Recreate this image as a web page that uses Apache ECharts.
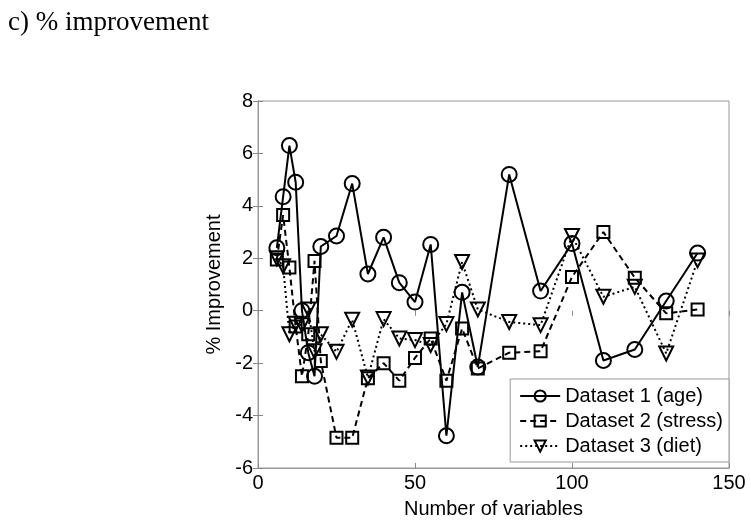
<!DOCTYPE html>
<html>
<head>
<meta charset="utf-8">
<script src="https://cdn.jsdelivr.net/npm/echarts@6/dist/echarts.min.js"></script>
<style>
  html, body { margin: 0; padding: 0; background: #fff; }
  #chart { width: 751px; height: 526px; }
</style>
</head>
<body>
<div id="chart"></div>
<script>
// number of variables (x) for every dataset
const numVars = [6, 8, 10, 12, 14, 16, 18, 20, 25, 30, 35, 40, 45, 50, 55, 60, 65, 70, 80, 90, 100, 110, 120, 130, 140]

const ageImprovement = [2.4, 4.35, 6.3, 4.9, 0, -1.6, -2.5, 2.45, 2.85, 4.85, 1.4, 2.8, 1.07, 0.33, 2.53, -4.77, 0.7, -2.15, 5.2, 0.75, 2.56, -1.9, -1.48, 0.37, 2.2]
const stressImprovement = [1.95, 3.65, 1.65, -0.6, -2.5, -0.9, 1.9, -1.92, -4.85, -4.85, -2.58, -2.0, -2.67, -1.8, -1.06, -2.67, -0.68, -2.2, -1.6, -1.55, 1.29, 3.0, 1.26, -0.1, 0.05]
const dietImprovement = [2.0, 1.7, -0.9, -0.5, -0.55, 0.05, -1.55, -0.9, -1.57, -0.34, -2.55, -0.32, -1.06, -1.12, -1.31, -0.51, 1.86, 0.05, -0.43, -0.55, 2.85, 0.53, 0.91, -1.63, 1.92]

const seriesNames = ['Dataset 1 (age)', 'Dataset 2 (stress)', 'Dataset 3 (diet)']

const pairs = ys => numVars.map((x, i) => [x, ys[i]])

const chart = echarts.init(document.getElementById('chart'))

const font = 'Liberation Sans, Arial, sans-serif'

const hiddenAxis = {
  axisLine: { show: false },
  axisLabel: { show: false },
  splitLine: { show: false },
  axisTick: { show: true, inside: true, length: 5, lineStyle: { color: '#888' } }
}

const makeSeries = (name, ys, symbol, size, dash, rotate) => ({
  name: name,
  type: 'line',
  data: pairs(ys),
  symbol: symbol,
  symbolSize: size,
  symbolRotate: rotate || 0,
  showAllSymbol: true,
  lineStyle: { color: '#000', width: 2, type: dash },
  itemStyle: { color: 'transparent', borderColor: '#000', borderWidth: 2 }
})

chart.setOption({
  animation: false,
  title: {
    text: 'c) % improvement',
    left: 3,
    top: 4,
    textStyle: { fontFamily: 'Liberation Serif, Times New Roman, serif', fontSize: 27, fontWeight: 'normal', color: '#000' }
  },
  grid: {
    left: 258,
    right: 22,
    top: 101,
    bottom: 58,
    show: true,
    borderColor: '#999',
    borderWidth: 1
  },
  legend: {
    orient: 'vertical',
    right: 22,
    bottom: 64,
    itemWidth: 40,
    itemHeight: 14,
    itemGap: 5,
    padding: [7, 6, 6, 9],
    backgroundColor: '#fff',
    borderColor: '#999',
    borderWidth: 1,
    textStyle: { fontFamily: font, fontSize: 20, color: '#000' },
    data: seriesNames
  },
  xAxis: [{
    type: 'value',
    min: 0,
    max: 150,
    interval: 50,
    name: 'Number of variables',
    nameLocation: 'middle',
    nameGap: 31,
    nameTextStyle: { fontFamily: font, fontSize: 20, color: '#000' },
    axisLine: { show: true, onZero: false, lineStyle: { color: '#999' } },
    axisTick: { show: true, inside: true, length: 5, lineStyle: { color: '#888' } },
    axisLabel: { fontFamily: font, fontSize: 20, color: '#000', margin: 5 },
    splitLine: { show: false }
  }, Object.assign({ type: 'value', min: 0, max: 150, interval: 50, position: 'top' }, hiddenAxis)],
  yAxis: [{
    type: 'value',
    min: -6,
    max: 8,
    interval: 2,
    name: '% Improvement',
    nameLocation: 'middle',
    nameGap: 28,
    nameTextStyle: { fontFamily: font, fontSize: 20, color: '#000' },
    axisLine: { show: true, onZero: false, lineStyle: { color: '#999' } },
    axisTick: { show: true, inside: true, length: 5, lineStyle: { color: '#888' } },
    axisLabel: { fontFamily: font, fontSize: 20, color: '#000', margin: 5 },
    splitLine: { show: false }
  }, Object.assign({ type: 'value', min: -6, max: 8, interval: 2, position: 'right' }, hiddenAxis)],
  series: [
    makeSeries(seriesNames[0], ageImprovement, 'circle', 15, 'solid'),
    makeSeries(seriesNames[1], stressImprovement, 'rect', 12, [6, 4]),
    makeSeries(seriesNames[2], dietImprovement, 'triangle', 14, [2, 3], 180)
  ]
})
</script>
</body>
</html>
